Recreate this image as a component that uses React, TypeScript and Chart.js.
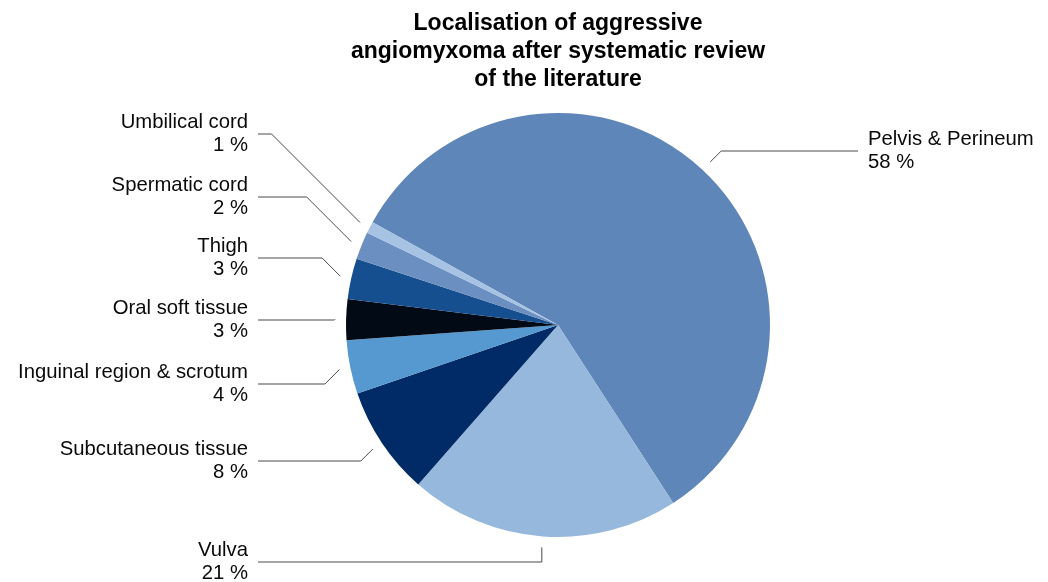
import React, { useEffect, useRef } from "react";
import { Chart, registerables } from "chart.js";

Chart.register(...registerables);

const categories = [
  "Pelvis & Perineum",
  "Vulva",
  "Subcutaneous tissue",
  "Inguinal region & scrotum",
  "Oral soft tissue",
  "Thigh",
  "Spermatic cord",
  "Umbilical cord",
];
const shares = [57.8, 20.6, 8.3, 4.1, 3.1, 3.1, 2.1, 0.9];
const percentLabels = ["58 %", "21 %", "8 %", "4 %", "3 %", "3 %", "2 %", "1 %"];
const sliceColors = [
  "#5f86b8",
  "#95b8dc",
  "#002b66",
  "#5699d0",
  "#020b15",
  "#164f8f",
  "#6b8fc0",
  "#a6c3e4",
];
const titleLines = [
  "Localisation of aggressive",
  "angiomyxoma after systematic review",
  "of the literature",
];

// layout of the callouts (y of each leader line's horizontal run)
const calloutY = [151, 562, 461, 384, 320, 258, 197, 134];

const FONT = '"Liberation Sans", Arial, Helvetica, sans-serif';

const calloutPlugin = {
  id: "callouts",
  afterDraw(chart: any) {
    const ctx = chart.ctx;
    const meta = chart.getDatasetMeta(0);
    const area = chart.chartArea;
    ctx.save();
    ctx.font = `20.3px ${FONT}`;
    ctx.fillStyle = "#0a0a0a";
    ctx.textBaseline = "middle";
    meta.data.forEach((arc: any, i: number) => {
      const { x, y, startAngle, endAngle, outerRadius } = arc.getProps(
        ["x", "y", "startAngle", "endAngle", "outerRadius"],
        true
      );
      const mid = (startAngle + endAngle) / 2;
      const r = outerRadius + 11;
      const px = x + Math.cos(mid) * r;
      const py = y + Math.sin(mid) * r;
      const ly = calloutY[i];
      const right = Math.cos(mid) > 0 && Math.sin(mid) < 0.95;
      const bottom = Math.sin(mid) >= 0.95;
      const dy = Math.abs(ly - py);
      ctx.strokeStyle = "#4a4a4a";
      ctx.lineWidth = 1;
      ctx.beginPath();
      ctx.moveTo(px, py);
      if (bottom) {
        ctx.lineTo(px, ly);
        ctx.lineTo(area.left, ly);
      } else if (right) {
        ctx.lineTo(px + dy, ly);
        ctx.lineTo(area.right, ly);
      } else {
        ctx.lineTo(px - dy, ly);
        ctx.lineTo(area.left, ly);
      }
      ctx.stroke();
      let tx: number;
      if (right) {
        ctx.textAlign = "left";
        tx = area.right + 10;
      } else {
        ctx.textAlign = "right";
        tx = area.left - 10;
      }
      ctx.fillText(categories[i], tx, ly - 11.5);
      ctx.fillText(percentLabels[i], tx, ly + 11.5);
    });
    ctx.restore();
  },
};

export default function App() {
  const ref = useRef<HTMLCanvasElement>(null);
  useEffect(() => {
    document.body.style.margin = "0";
    if (!ref.current) return;
    const chart = new Chart(ref.current, {
      type: "pie",
      data: {
        labels: categories,
        datasets: [
          {
            data: shares,
            backgroundColor: sliceColors,
            borderWidth: 0,
          },
        ],
      },
      options: {
        animation: false,
        responsive: true,
        maintainAspectRatio: false,
        rotation: -61,
        layout: { padding: { left: 258, right: 190, top: 0, bottom: 45 } },
        plugins: {
          legend: { display: false },
          tooltip: { enabled: false },
          title: {
            display: true,
            text: titleLines,
            color: "#000",
            font: { family: FONT, size: 23, weight: "bold", lineHeight: 28 / 23 },
            padding: { top: 10, bottom: 19 },
          },
        },
      },
      plugins: [calloutPlugin],
    });
    return () => chart.destroy();
  }, []);
  return (
    <div style={{ width: 1048, height: 582, position: "relative", background: "#fff" }}>
      <canvas ref={ref} />
    </div>
  );
}
